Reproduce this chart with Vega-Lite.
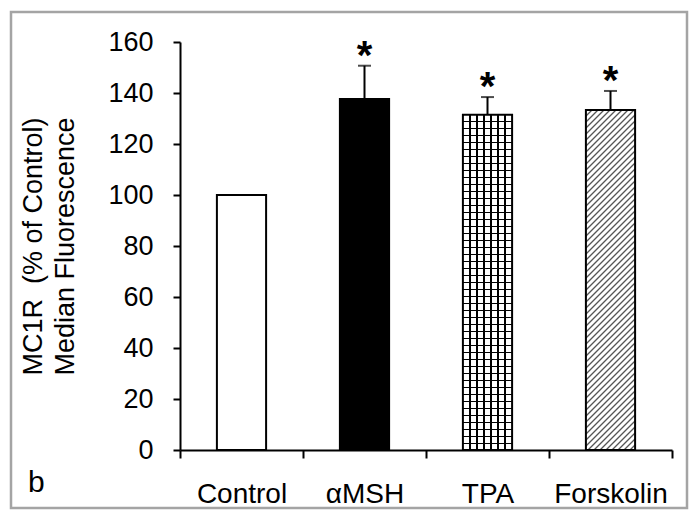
{
"$schema":"https://vega.github.io/schema/vega-lite/v6.json",
"width":676,"height":496,
"autosize":{"type":"none"},
"padding":{"left":11,"top":12,"right":12,"bottom":9},
"background":"white",
"config":{"view":{"stroke":"#a4a4a4","strokeWidth":2.5,"fill":"white"},"font":"Liberation Sans"},
"title":{"text":"b","orient":"bottom","anchor":"start","frame":"group","offset":-40,"dx":17,"fontSize":30,"fontWeight":"normal","color":"black","font":"Liberation Sans"},
"data":{"values":[
{"treatment":"Control","value":100,"upper":null,"sig":""},
{"treatment":"αMSH","value":137.6,"upper":150.7,"sig":"*"},
{"treatment":"TPA","value":131.5,"upper":138.4,"sig":"*"},
{"treatment":"Forskolin","value":133.3,"upper":140.8,"sig":"*"}
]},
"encoding":{
"x":{"field":"treatment","type":"nominal","sort":["Control","αMSH","TPA","Forskolin"],
"scale":{"type":"band","range":[169,661],"paddingInner":0,"paddingOuter":0},
"axis":{"title":null,"orient":"bottom","offset":-58,"tickBand":"extent","domainColor":"black","domainWidth":2,"tickColor":"black","tickWidth":2,"tickSize":8,"labelFontSize":28,"labelColor":"black","labelPadding":22,"labelAngle":0,"labelFont":"Liberation Sans","grid":false}}
},
"layer":[
{"mark":{"type":"bar","width":{"band":0.4},"strokeWidth":0},
"encoding":{"y":{"field":"value","type":"quantitative","scale":{"domain":[0,160],"range":[438,30],"nice":false,"zero":true},
"axis":{"title":["MC1R \u00a0(% of Control)","Median Fluorescence"],"orient":"left","offset":-169,"values":[0,20,40,60,80,100,120,140,160],"domainColor":"black","domainWidth":2,"tickColor":"black","tickWidth":2,"tickSize":7,"labelFontSize":27,"labelColor":"black","labelPadding":20,"labelFont":"Liberation Sans","titleFont":"Liberation Sans","titleFontSize":27,"titleFontWeight":"normal","titleColor":"black","titleLineHeight":32,"titlePadding":28,"grid":false}},
"fill":{"field":"treatment","type":"nominal","scale":{"domain":["Control","αMSH","TPA","Forskolin"],"range":["white","black","white","white"]},"legend":null}}},
{"transform":[{"filter":"datum.treatment==='TPA'"}],
"mark":{"type":"bar","width":{"band":0.4},"strokeWidth":0,"fill":{"gradient":"linear","x1":0,"y1":0,"x2":0,"y2":1,"stops":[
{"offset":0.01848,"color":"transparent"},{"offset":0.01848,"color":"#000"},{"offset":0.02328,"color":"#000"},{"offset":0.02328,"color":"transparent"},
{"offset":0.03935,"color":"transparent"},{"offset":0.03935,"color":"#000"},{"offset":0.04415,"color":"#000"},{"offset":0.04415,"color":"transparent"},
{"offset":0.06023,"color":"transparent"},{"offset":0.06023,"color":"#000"},{"offset":0.06503,"color":"#000"},{"offset":0.06503,"color":"transparent"},
{"offset":0.0811,"color":"transparent"},{"offset":0.0811,"color":"#000"},{"offset":0.0859,"color":"#000"},{"offset":0.0859,"color":"transparent"},
{"offset":0.10198,"color":"transparent"},{"offset":0.10198,"color":"#000"},{"offset":0.10678,"color":"#000"},{"offset":0.10678,"color":"transparent"},
{"offset":0.12285,"color":"transparent"},{"offset":0.12285,"color":"#000"},{"offset":0.12765,"color":"#000"},{"offset":0.12765,"color":"transparent"},
{"offset":0.14373,"color":"transparent"},{"offset":0.14373,"color":"#000"},{"offset":0.14853,"color":"#000"},{"offset":0.14853,"color":"transparent"},
{"offset":0.1646,"color":"transparent"},{"offset":0.1646,"color":"#000"},{"offset":0.1694,"color":"#000"},{"offset":0.1694,"color":"transparent"},
{"offset":0.18548,"color":"transparent"},{"offset":0.18548,"color":"#000"},{"offset":0.19028,"color":"#000"},{"offset":0.19028,"color":"transparent"},
{"offset":0.20635,"color":"transparent"},{"offset":0.20635,"color":"#000"},{"offset":0.21115,"color":"#000"},{"offset":0.21115,"color":"transparent"},
{"offset":0.22723,"color":"transparent"},{"offset":0.22723,"color":"#000"},{"offset":0.23203,"color":"#000"},{"offset":0.23203,"color":"transparent"},
{"offset":0.2481,"color":"transparent"},{"offset":0.2481,"color":"#000"},{"offset":0.2529,"color":"#000"},{"offset":0.2529,"color":"transparent"},
{"offset":0.26898,"color":"transparent"},{"offset":0.26898,"color":"#000"},{"offset":0.27378,"color":"#000"},{"offset":0.27378,"color":"transparent"},
{"offset":0.28985,"color":"transparent"},{"offset":0.28985,"color":"#000"},{"offset":0.29465,"color":"#000"},{"offset":0.29465,"color":"transparent"},
{"offset":0.31073,"color":"transparent"},{"offset":0.31073,"color":"#000"},{"offset":0.31553,"color":"#000"},{"offset":0.31553,"color":"transparent"},
{"offset":0.3316,"color":"transparent"},{"offset":0.3316,"color":"#000"},{"offset":0.3364,"color":"#000"},{"offset":0.3364,"color":"transparent"},
{"offset":0.35248,"color":"transparent"},{"offset":0.35248,"color":"#000"},{"offset":0.35728,"color":"#000"},{"offset":0.35728,"color":"transparent"},
{"offset":0.37335,"color":"transparent"},{"offset":0.37335,"color":"#000"},{"offset":0.37815,"color":"#000"},{"offset":0.37815,"color":"transparent"},
{"offset":0.39423,"color":"transparent"},{"offset":0.39423,"color":"#000"},{"offset":0.39903,"color":"#000"},{"offset":0.39903,"color":"transparent"},
{"offset":0.4151,"color":"transparent"},{"offset":0.4151,"color":"#000"},{"offset":0.4199,"color":"#000"},{"offset":0.4199,"color":"transparent"},
{"offset":0.43598,"color":"transparent"},{"offset":0.43598,"color":"#000"},{"offset":0.44078,"color":"#000"},{"offset":0.44078,"color":"transparent"},
{"offset":0.45685,"color":"transparent"},{"offset":0.45685,"color":"#000"},{"offset":0.46165,"color":"#000"},{"offset":0.46165,"color":"transparent"},
{"offset":0.47773,"color":"transparent"},{"offset":0.47773,"color":"#000"},{"offset":0.48253,"color":"#000"},{"offset":0.48253,"color":"transparent"},
{"offset":0.4986,"color":"transparent"},{"offset":0.4986,"color":"#000"},{"offset":0.5034,"color":"#000"},{"offset":0.5034,"color":"transparent"},
{"offset":0.51948,"color":"transparent"},{"offset":0.51948,"color":"#000"},{"offset":0.52428,"color":"#000"},{"offset":0.52428,"color":"transparent"},
{"offset":0.54035,"color":"transparent"},{"offset":0.54035,"color":"#000"},{"offset":0.54515,"color":"#000"},{"offset":0.54515,"color":"transparent"},
{"offset":0.56123,"color":"transparent"},{"offset":0.56123,"color":"#000"},{"offset":0.56603,"color":"#000"},{"offset":0.56603,"color":"transparent"},
{"offset":0.5821,"color":"transparent"},{"offset":0.5821,"color":"#000"},{"offset":0.5869,"color":"#000"},{"offset":0.5869,"color":"transparent"},
{"offset":0.60298,"color":"transparent"},{"offset":0.60298,"color":"#000"},{"offset":0.60778,"color":"#000"},{"offset":0.60778,"color":"transparent"},
{"offset":0.62385,"color":"transparent"},{"offset":0.62385,"color":"#000"},{"offset":0.62865,"color":"#000"},{"offset":0.62865,"color":"transparent"},
{"offset":0.64473,"color":"transparent"},{"offset":0.64473,"color":"#000"},{"offset":0.64953,"color":"#000"},{"offset":0.64953,"color":"transparent"},
{"offset":0.6656,"color":"transparent"},{"offset":0.6656,"color":"#000"},{"offset":0.6704,"color":"#000"},{"offset":0.6704,"color":"transparent"},
{"offset":0.68648,"color":"transparent"},{"offset":0.68648,"color":"#000"},{"offset":0.69128,"color":"#000"},{"offset":0.69128,"color":"transparent"},
{"offset":0.70735,"color":"transparent"},{"offset":0.70735,"color":"#000"},{"offset":0.71215,"color":"#000"},{"offset":0.71215,"color":"transparent"},
{"offset":0.72823,"color":"transparent"},{"offset":0.72823,"color":"#000"},{"offset":0.73303,"color":"#000"},{"offset":0.73303,"color":"transparent"},
{"offset":0.7491,"color":"transparent"},{"offset":0.7491,"color":"#000"},{"offset":0.7539,"color":"#000"},{"offset":0.7539,"color":"transparent"},
{"offset":0.76998,"color":"transparent"},{"offset":0.76998,"color":"#000"},{"offset":0.77478,"color":"#000"},{"offset":0.77478,"color":"transparent"},
{"offset":0.79085,"color":"transparent"},{"offset":0.79085,"color":"#000"},{"offset":0.79565,"color":"#000"},{"offset":0.79565,"color":"transparent"},
{"offset":0.81173,"color":"transparent"},{"offset":0.81173,"color":"#000"},{"offset":0.81653,"color":"#000"},{"offset":0.81653,"color":"transparent"},
{"offset":0.8326,"color":"transparent"},{"offset":0.8326,"color":"#000"},{"offset":0.8374,"color":"#000"},{"offset":0.8374,"color":"transparent"},
{"offset":0.85348,"color":"transparent"},{"offset":0.85348,"color":"#000"},{"offset":0.85828,"color":"#000"},{"offset":0.85828,"color":"transparent"},
{"offset":0.87435,"color":"transparent"},{"offset":0.87435,"color":"#000"},{"offset":0.87915,"color":"#000"},{"offset":0.87915,"color":"transparent"},
{"offset":0.89523,"color":"transparent"},{"offset":0.89523,"color":"#000"},{"offset":0.90003,"color":"#000"},{"offset":0.90003,"color":"transparent"},
{"offset":0.9161,"color":"transparent"},{"offset":0.9161,"color":"#000"},{"offset":0.9209,"color":"#000"},{"offset":0.9209,"color":"transparent"},
{"offset":0.93698,"color":"transparent"},{"offset":0.93698,"color":"#000"},{"offset":0.94178,"color":"#000"},{"offset":0.94178,"color":"transparent"},
{"offset":0.95785,"color":"transparent"},{"offset":0.95785,"color":"#000"},{"offset":0.96265,"color":"#000"},{"offset":0.96265,"color":"transparent"},
{"offset":0.97873,"color":"transparent"},{"offset":0.97873,"color":"#000"},{"offset":0.98353,"color":"#000"},{"offset":0.98353,"color":"transparent"}
]}},
"encoding":{"y":{"field":"value","type":"quantitative"}}},
{"transform":[{"filter":"datum.treatment==='TPA'"}],
"mark":{"type":"bar","width":{"band":0.4},"strokeWidth":0,"fill":{"gradient":"linear","x1":0,"y1":0,"x2":1,"y2":0,"stops":[
{"offset":0.1266,"color":"transparent"},{"offset":0.1266,"color":"#000"},{"offset":0.15912,"color":"#000"},{"offset":0.15912,"color":"transparent"},
{"offset":0.26945,"color":"transparent"},{"offset":0.26945,"color":"#000"},{"offset":0.30197,"color":"#000"},{"offset":0.30197,"color":"transparent"},
{"offset":0.41231,"color":"transparent"},{"offset":0.41231,"color":"#000"},{"offset":0.44483,"color":"#000"},{"offset":0.44483,"color":"transparent"},
{"offset":0.55517,"color":"transparent"},{"offset":0.55517,"color":"#000"},{"offset":0.58769,"color":"#000"},{"offset":0.58769,"color":"transparent"},
{"offset":0.69803,"color":"transparent"},{"offset":0.69803,"color":"#000"},{"offset":0.73055,"color":"#000"},{"offset":0.73055,"color":"transparent"},
{"offset":0.84088,"color":"transparent"},{"offset":0.84088,"color":"#000"},{"offset":0.8734,"color":"#000"},{"offset":0.8734,"color":"transparent"}
]}},
"encoding":{"y":{"field":"value","type":"quantitative"}}},
{"transform":[{"filter":"datum.treatment==='Forskolin'"}],
"mark":{"type":"bar","width":{"band":0.4},"strokeWidth":0,"fill":{"gradient":"linear","x1":0,"y1":0,"x2":0.1623,"y2":1.12126,"stops":[
{"offset":0.01156,"color":"transparent"},{"offset":0.01542,"color":"#555"},{"offset":0.01928,"color":"transparent"},
{"offset":0.02698,"color":"transparent"},{"offset":0.03084,"color":"#555"},{"offset":0.0347,"color":"transparent"},
{"offset":0.0424,"color":"transparent"},{"offset":0.04626,"color":"#555"},{"offset":0.05012,"color":"transparent"},
{"offset":0.05782,"color":"transparent"},{"offset":0.06168,"color":"#555"},{"offset":0.06554,"color":"transparent"},
{"offset":0.07324,"color":"transparent"},{"offset":0.0771,"color":"#555"},{"offset":0.08096,"color":"transparent"},
{"offset":0.08866,"color":"transparent"},{"offset":0.09252,"color":"#555"},{"offset":0.09638,"color":"transparent"},
{"offset":0.10408,"color":"transparent"},{"offset":0.10794,"color":"#555"},{"offset":0.1118,"color":"transparent"},
{"offset":0.1195,"color":"transparent"},{"offset":0.12336,"color":"#555"},{"offset":0.12722,"color":"transparent"},
{"offset":0.13492,"color":"transparent"},{"offset":0.13878,"color":"#555"},{"offset":0.14264,"color":"transparent"},
{"offset":0.15034,"color":"transparent"},{"offset":0.1542,"color":"#555"},{"offset":0.15806,"color":"transparent"},
{"offset":0.16576,"color":"transparent"},{"offset":0.16962,"color":"#555"},{"offset":0.17348,"color":"transparent"},
{"offset":0.18118,"color":"transparent"},{"offset":0.18504,"color":"#555"},{"offset":0.1889,"color":"transparent"},
{"offset":0.1966,"color":"transparent"},{"offset":0.20046,"color":"#555"},{"offset":0.20432,"color":"transparent"},
{"offset":0.21202,"color":"transparent"},{"offset":0.21588,"color":"#555"},{"offset":0.21974,"color":"transparent"},
{"offset":0.22744,"color":"transparent"},{"offset":0.2313,"color":"#555"},{"offset":0.23516,"color":"transparent"},
{"offset":0.24286,"color":"transparent"},{"offset":0.24672,"color":"#555"},{"offset":0.25058,"color":"transparent"},
{"offset":0.25828,"color":"transparent"},{"offset":0.26214,"color":"#555"},{"offset":0.266,"color":"transparent"},
{"offset":0.2737,"color":"transparent"},{"offset":0.27756,"color":"#555"},{"offset":0.28142,"color":"transparent"},
{"offset":0.28912,"color":"transparent"},{"offset":0.29298,"color":"#555"},{"offset":0.29684,"color":"transparent"},
{"offset":0.30454,"color":"transparent"},{"offset":0.3084,"color":"#555"},{"offset":0.31226,"color":"transparent"},
{"offset":0.31996,"color":"transparent"},{"offset":0.32382,"color":"#555"},{"offset":0.32768,"color":"transparent"},
{"offset":0.33538,"color":"transparent"},{"offset":0.33924,"color":"#555"},{"offset":0.3431,"color":"transparent"},
{"offset":0.3508,"color":"transparent"},{"offset":0.35466,"color":"#555"},{"offset":0.35852,"color":"transparent"},
{"offset":0.36622,"color":"transparent"},{"offset":0.37008,"color":"#555"},{"offset":0.37394,"color":"transparent"},
{"offset":0.38164,"color":"transparent"},{"offset":0.3855,"color":"#555"},{"offset":0.38936,"color":"transparent"},
{"offset":0.39706,"color":"transparent"},{"offset":0.40092,"color":"#555"},{"offset":0.40478,"color":"transparent"},
{"offset":0.41248,"color":"transparent"},{"offset":0.41634,"color":"#555"},{"offset":0.4202,"color":"transparent"},
{"offset":0.4279,"color":"transparent"},{"offset":0.43176,"color":"#555"},{"offset":0.43562,"color":"transparent"},
{"offset":0.44332,"color":"transparent"},{"offset":0.44718,"color":"#555"},{"offset":0.45104,"color":"transparent"},
{"offset":0.45874,"color":"transparent"},{"offset":0.4626,"color":"#555"},{"offset":0.46646,"color":"transparent"},
{"offset":0.47416,"color":"transparent"},{"offset":0.47802,"color":"#555"},{"offset":0.48188,"color":"transparent"},
{"offset":0.48958,"color":"transparent"},{"offset":0.49344,"color":"#555"},{"offset":0.4973,"color":"transparent"},
{"offset":0.505,"color":"transparent"},{"offset":0.50886,"color":"#555"},{"offset":0.51272,"color":"transparent"},
{"offset":0.52042,"color":"transparent"},{"offset":0.52428,"color":"#555"},{"offset":0.52814,"color":"transparent"},
{"offset":0.53584,"color":"transparent"},{"offset":0.5397,"color":"#555"},{"offset":0.54356,"color":"transparent"},
{"offset":0.55126,"color":"transparent"},{"offset":0.55512,"color":"#555"},{"offset":0.55898,"color":"transparent"},
{"offset":0.56668,"color":"transparent"},{"offset":0.57054,"color":"#555"},{"offset":0.5744,"color":"transparent"},
{"offset":0.5821,"color":"transparent"},{"offset":0.58596,"color":"#555"},{"offset":0.58982,"color":"transparent"},
{"offset":0.59752,"color":"transparent"},{"offset":0.60138,"color":"#555"},{"offset":0.60524,"color":"transparent"},
{"offset":0.61294,"color":"transparent"},{"offset":0.6168,"color":"#555"},{"offset":0.62066,"color":"transparent"},
{"offset":0.62836,"color":"transparent"},{"offset":0.63222,"color":"#555"},{"offset":0.63608,"color":"transparent"},
{"offset":0.64378,"color":"transparent"},{"offset":0.64764,"color":"#555"},{"offset":0.6515,"color":"transparent"},
{"offset":0.6592,"color":"transparent"},{"offset":0.66306,"color":"#555"},{"offset":0.66692,"color":"transparent"},
{"offset":0.67462,"color":"transparent"},{"offset":0.67848,"color":"#555"},{"offset":0.68234,"color":"transparent"},
{"offset":0.69004,"color":"transparent"},{"offset":0.6939,"color":"#555"},{"offset":0.69776,"color":"transparent"},
{"offset":0.70546,"color":"transparent"},{"offset":0.70932,"color":"#555"},{"offset":0.71318,"color":"transparent"},
{"offset":0.72088,"color":"transparent"},{"offset":0.72474,"color":"#555"},{"offset":0.7286,"color":"transparent"},
{"offset":0.7363,"color":"transparent"},{"offset":0.74016,"color":"#555"},{"offset":0.74402,"color":"transparent"},
{"offset":0.75172,"color":"transparent"},{"offset":0.75558,"color":"#555"},{"offset":0.75944,"color":"transparent"},
{"offset":0.76714,"color":"transparent"},{"offset":0.771,"color":"#555"},{"offset":0.77486,"color":"transparent"},
{"offset":0.78256,"color":"transparent"},{"offset":0.78642,"color":"#555"},{"offset":0.79028,"color":"transparent"},
{"offset":0.79798,"color":"transparent"},{"offset":0.80184,"color":"#555"},{"offset":0.8057,"color":"transparent"},
{"offset":0.8134,"color":"transparent"},{"offset":0.81726,"color":"#555"},{"offset":0.82112,"color":"transparent"},
{"offset":0.82882,"color":"transparent"},{"offset":0.83268,"color":"#555"},{"offset":0.83654,"color":"transparent"},
{"offset":0.84424,"color":"transparent"},{"offset":0.8481,"color":"#555"},{"offset":0.85196,"color":"transparent"},
{"offset":0.85966,"color":"transparent"},{"offset":0.86352,"color":"#555"},{"offset":0.86738,"color":"transparent"},
{"offset":0.87508,"color":"transparent"},{"offset":0.87894,"color":"#555"},{"offset":0.8828,"color":"transparent"},
{"offset":0.8905,"color":"transparent"},{"offset":0.89436,"color":"#555"},{"offset":0.89822,"color":"transparent"},
{"offset":0.90592,"color":"transparent"},{"offset":0.90978,"color":"#555"},{"offset":0.91364,"color":"transparent"},
{"offset":0.92134,"color":"transparent"},{"offset":0.9252,"color":"#555"},{"offset":0.92906,"color":"transparent"},
{"offset":0.93676,"color":"transparent"},{"offset":0.94062,"color":"#555"},{"offset":0.94448,"color":"transparent"},
{"offset":0.95218,"color":"transparent"},{"offset":0.95604,"color":"#555"},{"offset":0.9599,"color":"transparent"},
{"offset":0.9676,"color":"transparent"},{"offset":0.97146,"color":"#555"},{"offset":0.97532,"color":"transparent"},
{"offset":0.98302,"color":"transparent"},{"offset":0.98688,"color":"#555"},{"offset":0.99074,"color":"transparent"}
]}},
"encoding":{"y":{"field":"value","type":"quantitative"}}},
{"mark":{"type":"bar","width":{"band":0.4},"fillOpacity":0,"stroke":"black","strokeWidth":2},
"encoding":{"y":{"field":"value","type":"quantitative"}}},
{"transform":[{"filter":"datum.upper != null"}],
"mark":{"type":"rule","color":"black","strokeWidth":2},
"encoding":{"y":{"field":"value","type":"quantitative"},"y2":{"field":"upper"}}},
{"transform":[{"filter":"datum.upper != null"}],
"mark":{"type":"tick","color":"black","size":13,"thickness":2,"orient":"horizontal"},
"encoding":{"y":{"field":"upper","type":"quantitative"}}},
{"transform":[{"filter":"datum.upper != null"}],
"mark":{"type":"text","fontSize":40,"fontWeight":"bold","color":"black","baseline":"alphabetic","align":"center","dy":3,"font":"Liberation Sans"},
"encoding":{"y":{"field":"upper","type":"quantitative"},"text":{"field":"sig"}}}
]
}
